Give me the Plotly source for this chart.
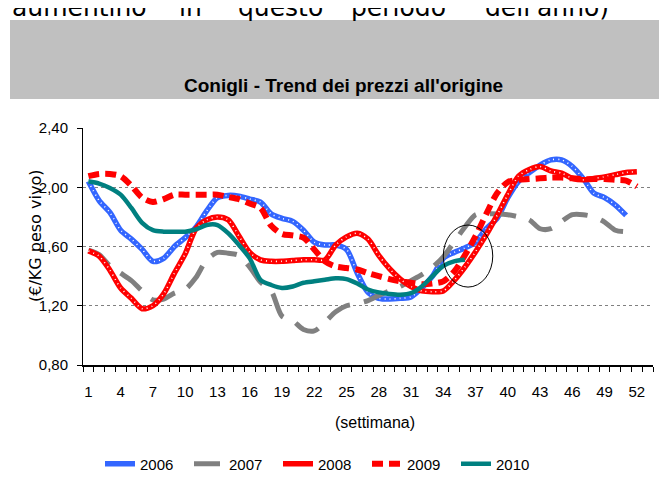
import plotly.graph_objects as go

weeks = list(range(1, 53))
tick_weeks = list(range(1, 53, 3))
y_ticks = [0.80, 1.20, 1.60, 2.00, 2.40]
y_tick_labels = ["0,80", "1,20", "1,60", "2,00", "2,40"]

p2006 = [2.04, 1.91, 1.83, 1.71, 1.65, 1.58, 1.50, 1.52, 1.60, 1.66, 1.73, 1.84, 1.93, 1.945,
         1.94, 1.92, 1.90, 1.82, 1.79, 1.77, 1.71, 1.63, 1.61, 1.61, 1.58, 1.42, 1.29, 1.25,
         1.245, 1.25, 1.26, 1.32, 1.40, 1.52, 1.56, 1.59, 1.63, 1.72, 1.79, 1.93, 2.04, 2.10,
         2.15, 2.185, 2.185, 2.14, 2.06, 1.96, 1.93, 1.88, 1.81]
p2007 = [1.575, 1.545, 1.47, 1.42, 1.37, 1.30, 1.24, 1.245, 1.285, 1.31, 1.39, 1.51, 1.56, 1.555,
         1.54, 1.46, 1.36, 1.30, 1.13, 1.10, 1.04, 1.03, 1.09, 1.16, 1.20, 1.215, 1.235, 1.27,
         1.30, 1.33, 1.37, 1.41, 1.46, 1.53, 1.63, 1.73, 1.815, 1.82, 1.82, 1.815, 1.80, 1.78,
         1.72, 1.72, 1.77, 1.815, 1.815, 1.80, 1.765, 1.71, 1.70]
p2008 = [1.57, 1.535, 1.44, 1.32, 1.25, 1.18, 1.20, 1.28, 1.42, 1.55, 1.72, 1.78, 1.80, 1.78,
         1.67, 1.56, 1.51, 1.50, 1.50, 1.505, 1.51, 1.51, 1.51, 1.61, 1.665, 1.69, 1.65, 1.54,
         1.45, 1.38, 1.33, 1.30, 1.295, 1.30, 1.37, 1.46, 1.565, 1.68, 1.81, 1.95, 2.075, 2.12,
         2.14, 2.11, 2.095, 2.06, 2.05, 2.06, 2.07, 2.085, 2.10, 2.105]
p2009 = [2.075, 2.09, 2.09, 2.075, 2.01, 1.93, 1.90, 1.92, 1.95, 1.95, 1.95, 1.95, 1.95, 1.935,
         1.92, 1.89, 1.86, 1.74, 1.685, 1.675, 1.66, 1.58, 1.50, 1.465, 1.455, 1.445, 1.42, 1.40,
         1.38, 1.365, 1.355, 1.345, 1.35, 1.365, 1.43, 1.54, 1.67, 1.82, 1.96, 2.035, 2.05, 2.055,
         2.06, 2.065, 2.065, 2.06, 2.055, 2.055, 2.055, 2.05, 2.045, 2.005]
p2010 = [2.04, 2.025, 1.995, 1.95, 1.86, 1.76, 1.71, 1.70, 1.70, 1.70, 1.715, 1.745, 1.745, 1.69,
         1.61, 1.52, 1.375, 1.34, 1.32, 1.33, 1.355, 1.365, 1.375, 1.385, 1.38, 1.35, 1.31, 1.29,
         1.28, 1.275, 1.285, 1.33, 1.40, 1.47, 1.50, 1.51]

NARROW = "Liberation Sans, Arial, sans-serif"
WIDE = "DejaVu Sans, Verdana, sans-serif"
SM = 0.8

fig = go.Figure()

def add(name, vals, color, width, dash="solid", dots=False):
    x = weeks[:len(vals)]
    fig.add_trace(go.Scatter(x=x, y=vals, name=name, mode="lines",
                             line=dict(color=color, width=width, dash=dash,
                                       shape="spline", smoothing=SM)))
    if dots:
        fig.add_trace(go.Scatter(x=x, y=vals, mode="lines", showlegend=False, hoverinfo="skip",
                                 line=dict(color="white", width=1.6, dash="1px,4px",
                                           shape="spline", smoothing=SM)))

add("2006", p2006, "#3366FF", 5.5, dots=True)
add("2007", p2007, "#808080", 5, dash="26px,14px")
add("2008", p2008, "#FF0000", 5.5, dots=True)
add("2009", p2009, "#FF0000", 6, dash="11px,6px")
add("2010", p2010, "#008080", 4.5)

# page positions (px) -> paper coords; plot area spans x 83..653, y 128..365 on the page
H = 237.0
def py(ypx):
    return (365 - ypx) / H
def px(xpx):
    return (xpx - 83) / 570.0

# gray title band
fig.add_shape(type="rect", xref="paper", yref="paper",
              x0=px(10), x1=px(690), y0=py(99), y1=py(20),
              fillcolor="#C0C0C0", line=dict(width=0), layer="below")
# highlight ellipse
fig.add_shape(type="circle", xref="x", yref="y", x0=34.0, x1=38.6, y0=1.326, y1=1.745,
              line=dict(color="black", width=1))

fig.add_annotation(text="<b>Conigli - Trend dei prezzi all'origine</b>", xref="paper", yref="paper",
                   x=px(343), y=py(85), xanchor="center", yanchor="middle", showarrow=False,
                   font=dict(family=NARROW, size=19, color="black"))
fig.add_annotation(text="(€/KG peso vivo)", xref="paper", yref="paper", textangle=-90,
                   x=px(35), y=py(236), xanchor="center", yanchor="middle", showarrow=False,
                   font=dict(family=WIDE, size=16, color="black"))
fig.add_annotation(text="(settimana)", xref="paper", yref="paper",
                   x=px(375), y=py(422), xanchor="center", yanchor="middle", showarrow=False,
                   font=dict(family=NARROW, size=16, color="black"))

# clipped text from the page above the chart
top_words = [("aumentino", 10), ("in", 177), ("questo", 236), ("periodo", 349), ("dell'anno)", 483)]
for w, xp in top_words:
    fig.add_annotation(text=w, xref="paper", yref="paper", x=px(xp), y=py(7),
                       xanchor="left", yanchor="middle", showarrow=False,
                       font=dict(family=WIDE, size=25, color="black"))

# the page has an 8px body margin, so margins are reduced by 8px
fig.update_layout(
    width=667, height=489,
    margin=dict(l=75, r=22, t=120, b=132),
    paper_bgcolor="white", plot_bgcolor="white",
    showlegend=True,
    legend=dict(orientation="h", x=px(100), y=py(464),
                xanchor="left", yanchor="middle", entrywidth=44, entrywidthmode="pixels",
                font=dict(family=NARROW, size=15, color="black"), bgcolor="rgba(0,0,0,0)"),
    xaxis=dict(range=[0.5, 53.5], tickmode="array", tickvals=tick_weeks,
               ticktext=[str(t) for t in tick_weeks], ticks="outside", ticklen=12,
               tickcolor="rgba(0,0,0,0)", showgrid=False, zeroline=False,
               showline=True, linecolor="black", linewidth=2,
               tickfont=dict(family=NARROW, size=15, color="black"),
               minor=dict(tickmode="array", tickvals=[i + 0.5 for i in range(54)],
                          ticks="outside", ticklen=5, tickcolor="black", tickwidth=1,
                          showgrid=False)),
    yaxis=dict(range=[0.8, 2.4], tickmode="array", tickvals=y_ticks, ticktext=y_tick_labels,
               ticks="outside", ticklen=5, tickcolor="black", ticklabelstandoff=6,
               showgrid=True, gridcolor="#808080", griddash="dot", gridwidth=1,
               zeroline=False, showline=True, linecolor="black", linewidth=1,
               tickfont=dict(family=NARROW, size=15, color="black")),
)

fig.write_html("out.html")
